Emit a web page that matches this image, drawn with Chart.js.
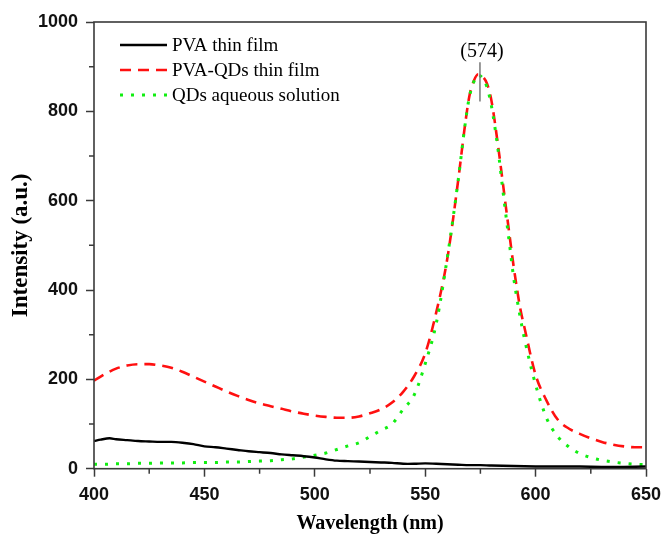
<!DOCTYPE html>
<html>
<head>
<meta charset="utf-8">
<script src="https://cdn.jsdelivr.net/npm/chart.js@4/dist/chart.umd.min.js"></script>
<style>
  html, body { margin: 0; padding: 0; background: #fff; }
  #wrap { width: 664px; height: 534px; }
</style>
</head>
<body>
<div id="wrap"><canvas id="c" width="664" height="534"></canvas></div>
<script>
// ---- Data ----
const seriesLabels = ['PVA thin film', 'PVA-QDs thin film', 'QDs aqueous solution'];

const wavelengthsPVA = [400, 403, 407, 410, 415, 420, 425, 430, 435, 440, 445, 450, 455, 460, 465, 470, 475, 480, 485, 490, 495, 500, 505, 510, 515, 520, 525, 530, 535, 540, 545, 550, 555, 560, 565, 570, 575, 580, 590, 600, 610, 620, 630, 640, 650];
const pvaFilm        = [62, 65, 68, 66, 64, 62, 61, 60, 60, 58, 55, 50, 48, 45, 42, 39, 37, 35, 32, 30, 28, 25, 21, 18, 17, 16, 15, 14, 13, 11, 11, 12, 11, 10, 9, 8, 8, 7, 6, 5, 5, 5, 4, 4, 5];

const wavelengthsQD = [400, 405, 410, 415, 420, 425, 430, 435, 440, 445, 450, 455, 460, 465, 470, 475, 480, 485, 490, 495, 500, 505, 510, 515, 520, 525, 530, 535, 540, 545, 550, 555, 560, 565, 568, 570, 572, 574, 576, 578, 580, 583, 585, 588, 590, 593, 595, 600, 605, 610, 615, 620, 625, 630, 635, 640, 645, 650];
const pvaQDsFilm    = [197, 212, 224, 231, 234, 234, 231, 226, 217, 206, 195, 184, 173, 163, 154, 146, 140, 134, 128, 123, 119, 116, 114, 114, 117, 124, 133, 148, 172, 207, 258, 350, 470, 648, 768, 834, 868, 883, 878, 862, 824, 723, 646, 530, 455, 360, 315, 210, 152, 110, 90, 78, 68, 60, 54, 50, 48, 48];
const qdsAqueous    = [10, 10, 11, 11, 12, 12, 13, 13, 13, 14, 14, 14, 15, 15, 16, 17, 18, 20, 22, 26, 30, 35, 43, 51, 58, 72, 86, 100, 133, 165, 235, 325, 472, 648, 768, 832, 866, 881, 874, 854, 812, 714, 630, 510, 430, 340, 290, 188, 113, 72, 49, 34, 25, 19, 15, 12, 10, 9];

const xTickValues = [400, 450, 500, 550, 600, 650];
const yTickValues = [0, 200, 400, 600, 800, 1000];
const peakLabel = '(574)';
const peakWavelength = 574.8;
const peakMarkerRange = [822, 910];

// ---- helpers ----
const toPoints = (xs, ys) => xs.map((x, i) => ({ x: x, y: ys[i] }));

const frameColor = '#3a3a3a';

const framePlugin = {
  id: 'frameAndMinor',
  afterDraw(chart) {
    const { ctx, chartArea: a, scales } = chart;
    ctx.save();
    ctx.strokeStyle = frameColor;
    ctx.lineWidth = 1.5;
    ctx.beginPath();
    for (let v = 425; v < 650; v += 50) {
      const px = scales.x.getPixelForValue(v);
      ctx.moveTo(px, a.bottom);
      ctx.lineTo(px, a.bottom + 5);
    }
    for (let v = 100; v < 1000; v += 200) {
      const py = scales.y.getPixelForValue(v);
      ctx.moveTo(a.left, py);
      ctx.lineTo(a.left - 5, py);
    }
    ctx.stroke();
    ctx.lineWidth = 1.6;
    ctx.strokeRect(a.left, a.top, a.right - a.left, a.bottom - a.top);
    ctx.restore();
  }
};

const legendPlugin = {
  id: 'innerLegend',
  afterDraw(chart) {
    const { ctx } = chart;
    const rows = [45, 70, 95];
    ctx.save();
    chart.data.datasets.forEach((ds, i) => {
      const y = rows[i];
      ctx.beginPath();
      ctx.strokeStyle = ds.borderColor;
      ctx.lineWidth = ds.borderWidth;
      ctx.setLineDash(ds.borderDash || []);
      ctx.moveTo(120, y);
      ctx.lineTo(167, y);
      ctx.stroke();
      ctx.setLineDash([]);
      ctx.fillStyle = '#000';
      ctx.font = '19px "Liberation Serif", "Times New Roman", serif';
      ctx.textBaseline = 'middle';
      ctx.textAlign = 'left';
      ctx.fillText(ds.label, 172, y + 1);
    });
    ctx.restore();
  }
};

const peakPlugin = {
  id: 'peakMark',
  afterDatasetsDraw(chart) {
    const { ctx, scales } = chart;
    const px = scales.x.getPixelForValue(peakWavelength);
    const y1 = scales.y.getPixelForValue(peakMarkerRange[0]);
    const y2 = scales.y.getPixelForValue(peakMarkerRange[1]);
    ctx.save();
    ctx.strokeStyle = '#777';
    ctx.lineWidth = 1.5;
    ctx.beginPath();
    ctx.moveTo(px, y1);
    ctx.lineTo(px, y2);
    ctx.stroke();
    ctx.fillStyle = '#000';
    ctx.font = '20px "Liberation Serif", "Times New Roman", serif';
    ctx.textAlign = 'center';
    ctx.textBaseline = 'alphabetic';
    ctx.fillText(peakLabel, px + 2, y2 - 5);
    ctx.restore();
  }
};

const tickFont = { family: '"Liberation Sans", Arial, sans-serif', size: 18, weight: 'bold' };
const titleFont = { family: '"Liberation Serif", "Times New Roman", serif', weight: 'bold' };

new Chart(document.getElementById('c'), {
  type: 'line',
  data: {
    datasets: [
      {
        label: seriesLabels[0],
        data: toPoints(wavelengthsPVA, pvaFilm),
        borderColor: '#000000',
        borderWidth: 2.4,
        pointRadius: 0,
        tension: 0.3,
        order: 1
      },
      {
        label: seriesLabels[1],
        data: toPoints(wavelengthsQD, pvaQDsFilm),
        borderColor: '#ff1010',
        borderWidth: 2.6,
        borderDash: [11, 7],
        pointRadius: 0,
        cubicInterpolationMode: 'monotone',
        order: 3
      },
      {
        label: seriesLabels[2],
        data: toPoints(wavelengthsQD, qdsAqueous),
        borderColor: '#11ee11',
        borderWidth: 3,
        borderDash: [3, 8],
        pointRadius: 0,
        cubicInterpolationMode: 'monotone',
        order: 2
      }
    ]
  },
  options: {
    responsive: false,
    animation: false,
    devicePixelRatio: 1,
    layout: { padding: { top: 22, right: 18, left: 0, bottom: 0 } },
    plugins: {
      legend: { display: false },
      tooltip: { enabled: false }
    },
    scales: {
      x: {
        type: 'linear',
        min: 400,
        max: 650,
        afterBuildTicks(scale) { scale.ticks = xTickValues.map(v => ({ value: v })); },
        afterFit(scale) { scale.height = 65.3; scale.paddingRight = 0; scale.paddingLeft = 0; },
        ticks: { font: tickFont, color: '#111', padding: 8, maxRotation: 0, callback: v => String(v) },
        grid: { drawOnChartArea: false, drawTicks: true, tickLength: 8, tickColor: frameColor, tickWidth: 1.5 },
        border: { display: false },
        title: {
          display: true,
          text: 'Wavelength (nm)',
          font: Object.assign({ size: 20, lineHeight: 1 }, titleFont),
          color: '#000',
          padding: 0
        }
      },
      y: {
        min: 0,
        max: 1000,
        afterBuildTicks(scale) { scale.ticks = yTickValues.map(v => ({ value: v })); },
        afterFit(scale) { scale.width = 94; scale.paddingTop = 0; scale.paddingBottom = 0; },
        ticks: { font: tickFont, color: '#111', padding: 8, callback: v => String(v) },
        grid: { drawOnChartArea: false, drawTicks: true, tickLength: 8, tickColor: frameColor, tickWidth: 1.5 },
        border: { display: false },
        title: {
          display: true,
          text: 'Intensity (a.u.)',
          font: Object.assign({ size: 23, lineHeight: 1.2 }, titleFont),
          color: '#000',
          padding: { top: 7, bottom: 0 }
        }
      }
    }
  },
  plugins: [framePlugin, legendPlugin, peakPlugin]
});
</script>
</body>
</html>
